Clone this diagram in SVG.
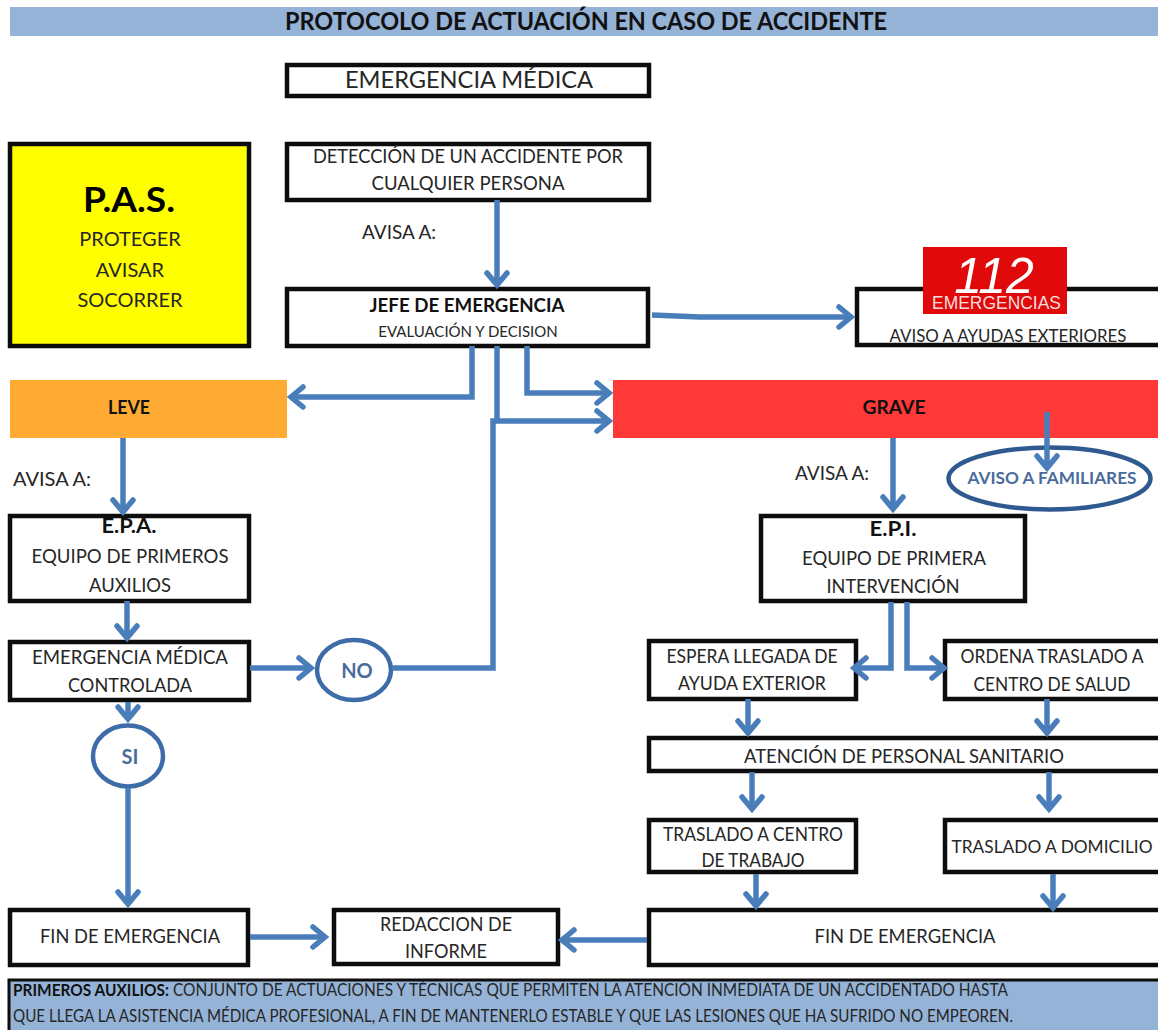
<svg xmlns="http://www.w3.org/2000/svg" width="1158" height="1030" viewBox="0 0 1158 1030">
<style>
text{font-family:"Lato","Open Sans","Liberation Sans",sans-serif;fill:#262626;text-anchor:middle}
.b{fill:#fff;stroke:#0d0d0d;stroke-width:4.5}
.t{font-size:20px}
.s{font-weight:700;fill:#111}
.c{fill:none;stroke:#4a7ebb;stroke-width:5.5;marker-end:url(#a)}
.n{fill:none;stroke:#4a7ebb;stroke-width:5.5}
.o{fill:#fff;stroke:#3d6da8;stroke-width:4.5}
.l{font-weight:700;fill:#4a6c9c}
.f{font-size:17px;text-anchor:start}
</style>
<defs>
<marker id="a" markerUnits="userSpaceOnUse" markerWidth="30" markerHeight="30" refX="21" refY="15" orient="auto" viewBox="0 0 30 30"><path d="M8,5 L20,15 L8,25" fill="none" stroke="#4a7ebb" stroke-width="5.5" stroke-linecap="round"/></marker>
</defs>
<rect width="1158" height="1030" fill="#fff"/>
<g id="titulo"><rect x="10" y="7" width="1148" height="29" fill="#95b3d7"/><text x="586" y="30" font-size="24" class="s" textLength="602" lengthAdjust="spacingAndGlyphs">PROTOCOLO DE ACTUACIÓN EN CASO DE ACCIDENTE</text></g>
<g id="emergencia-medica"><rect class="b" x="287" y="65" width="362" height="31"/><text x="469" y="88" font-size="22.5" textLength="248" lengthAdjust="spacingAndGlyphs">EMERGENCIA MÉDICA</text></g>
<g id="deteccion"><rect class="b" x="287" y="144" width="362" height="56"/><text class="t" x="468" y="163" textLength="310" lengthAdjust="spacingAndGlyphs">DETECCIÓN DE UN ACCIDENTE POR</text><text class="t" x="468" y="190" textLength="193" lengthAdjust="spacingAndGlyphs">CUALQUIER PERSONA</text></g>
<g id="pas"><rect x="10" y="144" width="239" height="202" fill="#ffff00" stroke="#0d0d0d" stroke-width="4.5"/><text x="129" y="212" font-size="34" class="s" style="fill:#000" textLength="92" lengthAdjust="spacingAndGlyphs">P.A.S.</text><text class="t" x="130" y="246">PROTEGER</text><text class="t" x="130" y="277">AVISAR</text><text class="t" x="130" y="307">SOCORRER</text></g>
<text class="t" x="399" y="239" textLength="74" lengthAdjust="spacingAndGlyphs">AVISA A:</text>
<g id="jefe"><rect class="b" x="287" y="289" width="361" height="57"/><text class="s" font-size="18" x="467" y="312" textLength="195" lengthAdjust="spacingAndGlyphs">JEFE DE EMERGENCIA</text><text font-size="15" x="468" y="337">EVALUACIÓN Y DECISION</text></g>
<g id="ayudas"><rect class="b" x="857" y="289" width="304" height="56"/><text font-size="18" x="1008" y="342" textLength="237" lengthAdjust="spacingAndGlyphs">AVISO A AYUDAS EXTERIORES</text><rect x="923" y="247" width="144" height="67" fill="#e00a0a"/><text x="994" y="293" font-size="50" font-style="italic" style="font-family:'Liberation Sans',sans-serif;fill:#fff">112</text><text x="996.5" y="309" font-size="19" textLength="129" lengthAdjust="spacingAndGlyphs" style="font-family:'Liberation Sans',sans-serif;fill:#f4dcdc">EMERGENCIAS</text></g>
<g id="leve"><rect x="10" y="380" width="277" height="58" fill="#ffab33"/><text class="s" font-size="18" x="129" y="414" textLength="42" lengthAdjust="spacingAndGlyphs">LEVE</text></g>
<g id="grave"><rect x="613" y="380" width="545" height="58" fill="#ff3838"/><text class="s" font-size="18" x="894" y="414" textLength="63" lengthAdjust="spacingAndGlyphs">GRAVE</text></g>
<text class="t" x="52" y="486">AVISA A:</text>
<text class="t" x="832" y="480" textLength="74" lengthAdjust="spacingAndGlyphs">AVISA A:</text>
<g id="familiares"><ellipse cx="1049.5" cy="478.5" rx="101" ry="31" fill="#fff" stroke="#2f5a8f" stroke-width="4.5"/><text class="l" font-size="17" x="1052" y="484" textLength="169" lengthAdjust="spacingAndGlyphs">AVISO A FAMILIARES</text></g>
<g id="epa"><rect class="b" x="10" y="516" width="239" height="85"/><text class="s t" x="129" y="533" textLength="55" lengthAdjust="spacingAndGlyphs">E.P.A.</text><text class="t" x="130" y="563" textLength="197" lengthAdjust="spacingAndGlyphs">EQUIPO DE PRIMEROS</text><text class="t" x="130" y="592" textLength="82" lengthAdjust="spacingAndGlyphs">AUXILIOS</text></g>
<g id="epi"><rect class="b" x="761" y="516" width="264" height="85"/><text class="s t" x="893" y="536" textLength="47" lengthAdjust="spacingAndGlyphs">E.P.I.</text><text class="t" x="894" y="565" textLength="184" lengthAdjust="spacingAndGlyphs">EQUIPO DE PRIMERA</text><text class="t" x="893" y="593" textLength="133" lengthAdjust="spacingAndGlyphs">INTERVENCIÓN</text></g>
<g id="controlada"><rect class="b" x="10" y="642" width="239" height="58"/><text class="t" x="130" y="664" textLength="196" lengthAdjust="spacingAndGlyphs">EMERGENCIA MÉDICA</text><text class="t" x="130" y="692" textLength="124" lengthAdjust="spacingAndGlyphs">CONTROLADA</text></g>
<g id="no"><ellipse class="o" cx="354" cy="670" rx="37" ry="30"/><text class="l t" x="357" y="678">NO</text></g>
<g id="si"><ellipse class="o" cx="128" cy="756" rx="35" ry="30.5"/><text class="l t" x="130" y="764">SI</text></g>
<g id="espera"><rect class="b" x="649" y="641" width="207" height="58"/><text class="t" x="752" y="663" textLength="171" lengthAdjust="spacingAndGlyphs">ESPERA LLEGADA DE</text><text class="t" x="752" y="690" textLength="148" lengthAdjust="spacingAndGlyphs">AYUDA EXTERIOR</text></g>
<g id="ordena"><rect class="b" x="945" y="641" width="216" height="58"/><text font-size="18.5" x="1052" y="663" textLength="183" lengthAdjust="spacingAndGlyphs">ORDENA TRASLADO A</text><text class="t" x="1052" y="691" textLength="157" lengthAdjust="spacingAndGlyphs">CENTRO DE SALUD</text></g>
<g id="atencion"><rect class="b" x="649" y="738" width="512" height="33"/><text class="t" x="904" y="763" textLength="320" lengthAdjust="spacingAndGlyphs">ATENCIÓN DE PERSONAL SANITARIO</text></g>
<g id="traslado-centro"><rect class="b" x="649" y="820" width="207" height="52"/><text class="t" x="753" y="841" textLength="180" lengthAdjust="spacingAndGlyphs">TRASLADO A CENTRO</text><text class="t" x="753" y="867" textLength="103" lengthAdjust="spacingAndGlyphs">DE TRABAJO</text></g>
<g id="traslado-domicilio"><rect class="b" x="945" y="820" width="216" height="52"/><text font-size="18" x="1052" y="853" textLength="201" lengthAdjust="spacingAndGlyphs">TRASLADO A DOMICILIO</text></g>
<g id="fin-izq"><rect class="b" x="10" y="910" width="238" height="55"/><text class="t" x="130" y="943" textLength="180" lengthAdjust="spacingAndGlyphs">FIN DE EMERGENCIA</text></g>
<g id="informe"><rect class="b" x="334" y="910" width="224" height="54"/><text class="t" x="446" y="931" textLength="132" lengthAdjust="spacingAndGlyphs">REDACCION DE</text><text class="t" x="446" y="958" textLength="82" lengthAdjust="spacingAndGlyphs">INFORME</text></g>
<g id="fin-der"><rect class="b" x="649" y="910" width="512" height="55"/><text class="t" x="905" y="943" textLength="181" lengthAdjust="spacingAndGlyphs">FIN DE EMERGENCIA</text></g>
<g id="pie"><rect x="9" y="980" width="1152" height="52" fill="#95b3d7" stroke="#0d0d0d" stroke-width="3"/>
<text class="f" x="13" y="996" textLength="995" lengthAdjust="spacingAndGlyphs"><tspan font-weight="700" fill="#111">PRIMEROS AUXILIOS:</tspan> CONJUNTO DE ACTUACIONES Y TÉCNICAS QUE PERMITEN LA ATENCIÓN INMEDIATA DE UN ACCIDENTADO HASTA</text>
<text class="f" x="13" y="1022" textLength="1000" lengthAdjust="spacingAndGlyphs">QUE LLEGA LA ASISTENCIA MÉDICA PROFESIONAL, A FIN DE MANTENERLO ESTABLE Y QUE LAS LESIONES QUE HA SUFRIDO NO EMPEOREN.</text></g>
<g id="conectores">
<path class="c" d="M497,200V286"/>
<path class="c" d="M652,315L700,317H852"/>
<path class="c" d="M472,346V397H290"/>
<path class="c" d="M527,346V393H610"/>
<path class="n" d="M497,346V421"/>
<path class="c" d="M250,668H312"/>
<path class="c" d="M392,668H493V421H610"/>
<path class="c" d="M123,438V513"/>
<path class="c" d="M127,601V639"/>
<path class="c" d="M128,702V720"/>
<path class="c" d="M128,788V905"/>
<path class="c" d="M893,438V510"/>
<path class="c" d="M1047,412V469"/>
<path class="c" d="M891,602V668H853"/>
<path class="c" d="M907,602V668H945"/>
<path class="c" d="M748,699V734"/>
<path class="c" d="M1047,699V734"/>
<path class="c" d="M752,772V810"/>
<path class="c" d="M1049,772V810"/>
<path class="c" d="M756,874V907"/>
<path class="c" d="M1053,874V909"/>
<path class="c" d="M250,937H326"/>
<path class="c" d="M647,940H561"/>
</g>
</svg>
